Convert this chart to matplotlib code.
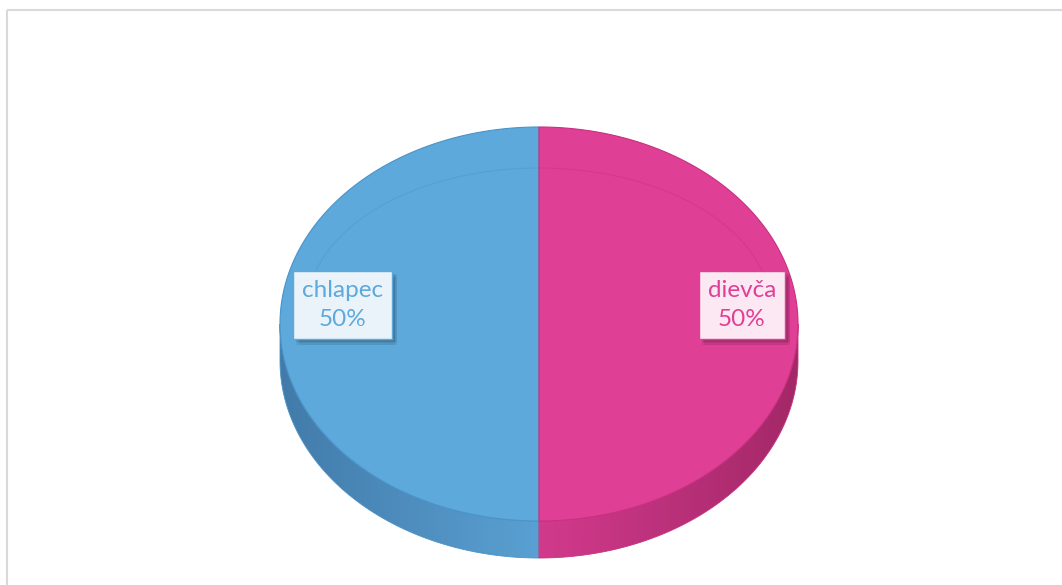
import numpy as np
import matplotlib
matplotlib.use("Agg")
import matplotlib.pyplot as plt
from matplotlib.patches import Polygon, Rectangle
from matplotlib import patheffects
from matplotlib.colors import LinearSegmentedColormap

# data
categories = ["chlapec", "dievča"]
values = [50, 50]
top_colors = ["#5DA9DB", "#E03F96"]
edge_colors = ["#4A93C8", "#C8307F"]
side_dark = ["#427BAA", "#A32868"]
side_light = ["#5AA0D2", "#D23A8C"]
box_faces = ["#EAF3FA", "#FCE8F2"]

# geometry of the tilted disk (pixels)
cx, cy = 539, 324
rx, ry = 259, 197
depth = 37

fig = plt.figure(figsize=(10.62, 5.85), dpi=100)
ax = fig.add_axes([0, 0, 1, 1])
ax.set_xlim(0, 1062)
ax.set_ylim(585, 0)
ax.axis("off")

# chart frame
ax.add_patch(Rectangle((7, 10), 1100, 620, fill=False, ec="#D9D9D9", lw=1.5))


def arc(t0, t1, n=200, dy=0.0):
    t = np.radians(np.linspace(t0, t1, n))
    return np.column_stack([cx + rx * np.cos(t), cy - ry * np.sin(t) + dy])


# slice angles, counter-clockwise from 12 o'clock
total = float(sum(values))
starts, ends = [], []
ang = 90.0
for v in values:
    starts.append(ang)
    ang += 360.0 * v / total
    ends.append(ang)

# side wall: only the front half (180..360 deg) is visible
for i in range(len(values)):
    for shift in (0, 360):
        s = max(starts[i], 180 + shift)
        e = min(ends[i], 360 + shift)
        if e <= s:
            continue
        topline = arc(s, e)
        botline = arc(s, e, dy=depth)[::-1]
        poly = Polygon(np.vstack([topline, botline]), closed=True,
                       fc="none", ec=edge_colors[i], lw=0.6, zorder=2)
        ax.add_patch(poly)
        x0, x1 = topline[:, 0].min(), topline[:, 0].max()
        y0, y1 = topline[:, 1].min(), botline[:, 1].max()
        # darker toward the outer edge of the disk
        if (x0 + x1) / 2 < cx:
            cmap = LinearSegmentedColormap.from_list("s", [side_dark[i], side_light[i]])
        else:
            cmap = LinearSegmentedColormap.from_list("s", [side_light[i], side_dark[i]])
        grad = np.linspace(0, 1, 256).reshape(1, -1)
        im = ax.imshow(grad, cmap=cmap, extent=(x0, x1, y1, y0),
                       aspect="auto", zorder=1.5)
        im.set_clip_path(poly)

# top face wedges
for i in range(len(values)):
    pts = np.vstack([[cx, cy], arc(starts[i], ends[i]), [cx, cy]])
    ax.add_patch(Polygon(pts, closed=True, fc=top_colors[i],
                         ec=edge_colors[i], lw=0.8, zorder=3))

# faint bevel line on the top face
t = np.radians(np.linspace(15, 165, 200))
bx = cx + 232 * np.cos(t)
by = 310 - 142 * np.sin(t)
ax.plot(bx[bx < cx], by[bx < cx], color="#4F9BCF", lw=0.8, alpha=0.6, zorder=4)
ax.plot(bx[bx >= cx], by[bx >= cx], color="#CC3588", lw=0.8, alpha=0.6, zorder=4)

# soft shadow built from a few faint offset copies
shadow = [patheffects.SimplePatchShadow(offset=(dx, -dy), shadow_rgbFace="black", alpha=0.06)
          for dx, dy in [(1, 1), (2, 2), (3, 3), (4, 4), (2, 4), (4, 2)]]

# data labels, inside end of each slice
for i in range(len(values)):
    mid = np.radians((starts[i] + ends[i]) / 2)
    px = cx + (rx - 22) * np.cos(mid)
    py = cy - 19
    ha = "left" if np.cos(mid) < 0 else "right"
    pct = f"{values[i] / total * 100:.0f}%"
    txt = ax.text(px, py, f"{categories[i]}\n{pct}", ha=ha, va="center",
                  multialignment="center", fontsize=17.5, family="Lato",
                  color=top_colors[i], linespacing=1.5, zorder=6,
                  bbox=dict(boxstyle="square,pad=0.36", fc=box_faces[i],
                            ec=top_colors[i], lw=1.0))
    txt.get_bbox_patch().set_path_effects(shadow + [patheffects.Normal()])

fig.savefig("out.png", dpi=100)
